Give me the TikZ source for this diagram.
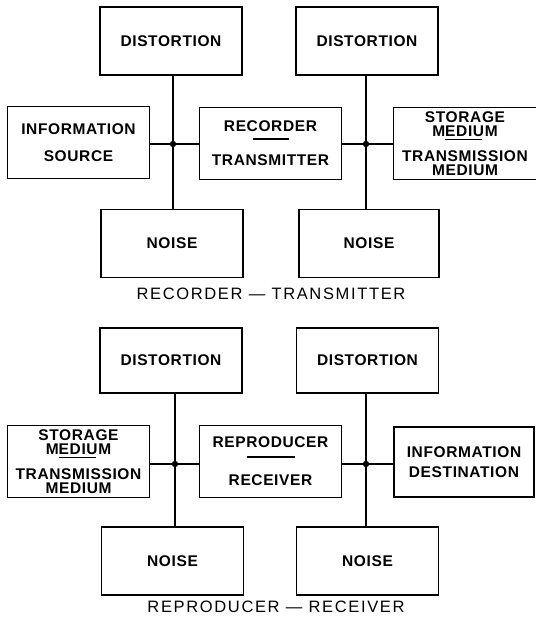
\documentclass[tikz,border=0pt]{standalone}
\usepackage{fontspec}
\setmainfont{Liberation Sans}
\newfontfamily\boxfont[LetterSpace=4]{Liberation Sans}
\newfontfamily\capfont[LetterSpace=10]{Liberation Sans}

\begin{document}
\begin{tikzpicture}[
    x=1pt, y=1pt,
    block/.style={rectangle, draw=black, line width=1.3pt, align=center, inner sep=0pt,
        minimum width=142pt, minimum height=68pt, font=\boxfont\bfseries\fontsize{15.5}{17}\selectfont},
    sidebox/.style={block, minimum height=72pt},
    mediumbox/.style={sidebox, font=\boxfont\bfseries\fontsize{15.5}{14}\selectfont},
    wire/.style={line width=2.5pt},
    caption/.style={font=\capfont\fontsize{16.5}{20}\selectfont}
]
    \useasboundingbox (0,0) rectangle (536,622);

    % recorder - transmitter
    \coordinate (j1) at (173,478);
    \coordinate (j2) at (366,478);
    \node[block] (dist1) at (171,581) {DISTORTION};
    \node[sidebox] (src) at (78.5,479.5) {INFORMATION\\[10pt]SOURCE};
    \node[sidebox] (rec) at (270.5,478.5) {RECORDER\\\rule[9pt]{36pt}{1.4pt}\\TRANSMITTER};
    \node[block] (noise1) at (172,378.5) {NOISE};
    \node[block] (dist2) at (367,581) {DISTORTION};
    \node[mediumbox, minimum width=143pt] (med1) at (465,478.5) {STORAGE\\M\rlap{\rule[-4pt]{37pt}{1.4pt}}EDIUM\\[9pt]TRANSMISSION\\MEDIUM};
    \node[block, minimum width=140pt] (noise2) at (369,378.5) {NOISE};
    \node[caption] (cap1) at (271,328) {RECORDER — TRANSMITTER};

    % reproducer - receiver
    \coordinate (j3) at (175,158);
    \coordinate (j4) at (366,158);
    \node[block, minimum height=65pt] (dist3) at (171,261.5) {DISTORTION};
    \node[mediumbox] (med2) at (78.5,160.5) {STORAGE\\M\rlap{\rule[-4pt]{37pt}{1.4pt}}EDIUM\\[9pt]TRANSMISSION\\MEDIUM};
    \node[sidebox] (repr) at (270.5,160.5) {REPRODUCER\\\rule[7pt]{48pt}{1.4pt}\\[4pt]RECEIVER};
    \node[block] (noise3) at (172.5,61) {NOISE};
    \node[block, minimum height=65pt] (dist4) at (367.5,261.5) {DISTORTION};
    \node[sidebox, minimum width=140pt, minimum height=70pt] (dest) at (464,160) {INFORMATION\\[3pt]DESTINATION};
    \node[block] (noise4) at (367.5,61) {NOISE};
    \node[caption] (cap2) at (276,15) {REPRODUCER — RECEIVER};

    % connections
    \draw[wire] (dist1.south -| j1) -- (noise1.north -| j1);
    \draw[wire] (src.east |- j1) -- (rec.west |- j1);
    \draw[wire] (dist2.south -| j2) -- (noise2.north -| j2);
    \draw[wire] (rec.east |- j2) -- (med1.west |- j2);
    \draw[wire] (dist3.south -| j3) -- (noise3.north -| j3);
    \draw[wire] (med2.east |- j3) -- (repr.west |- j3);
    \draw[wire] (dist4.south -| j4) -- (noise4.north -| j4);
    \draw[wire] (repr.east |- j4) -- (dest.west |- j4);
    \foreach \j in {j1,j2,j3,j4}
        \fill (\j) circle (3.2pt);

\end{tikzpicture}
\end{document}
